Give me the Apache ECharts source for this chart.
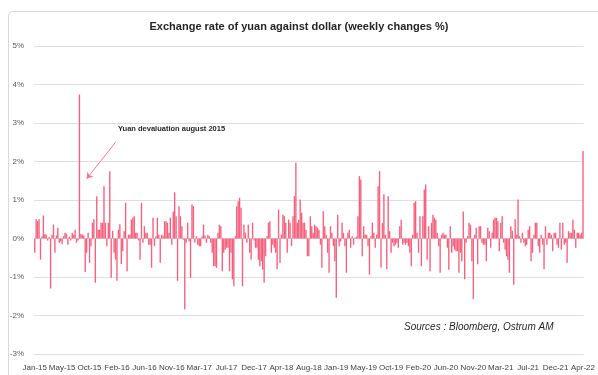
<!DOCTYPE html>
<html>
<head>
<meta charset="utf-8">
<script src="https://cdn.jsdelivr.net/npm/echarts@6/dist/echarts.min.js"></script>
<style>
  html, body { margin: 0; padding: 0; background: #fff; }
  #chart { width: 598px; height: 375px; }
</style>
</head>
<body>
<div id="chart"></div>
<script>
// weekly changes of CNY vs USD, in %, Jan-15 .. Apr-22
var weeklyChange = [
  -0.37, 0.50, 0.45, 0.50, -0.55, 0.05, 0.60, 0.12, 0.10, -0.05,
  0.04, -1.30, 0.10, 0.36, -0.37, 0.08, 0.28, -0.12, -0.08, -0.15,
  0.06, 0.15, 0.12, -0.16, 0.05, -0.05, 0.15, 0.10, 0.23, -0.11,
  -0.05, 3.74, 0.12, 0.10, 0.08, -0.87, -0.37, 0.15, -0.63, -0.20,
  0.41, 0.50, -1.15, 1.10, 0.23, 0.23, 0.41, 0.41, 1.36, 0.41,
  -0.20, 0.41, 1.75, -1.02, 0.20, -0.37, -0.55, -1.10, 0.23, 0.37,
  -0.66, -0.33, 0.19, 0.93, -0.85, 0.10, 0.10, 0.49, 0.54, 0.58,
  0.15, 0.15, -0.05, -0.55, 0.93, -0.11, 0.32, 0.15, 0.15, -0.16,
  -0.16, -0.76, 0.54, -0.20, 0.06, 0.54, 0.10, -0.63, 0.10, 0.06,
  0.45, 0.45, 0.41, 0.15, 0.54, -0.16, 0.70, 1.20, 0.58, -1.10,
  0.84, 0.58, 0.32, -0.03, -1.84, -0.11, 0.41, -0.08, -1.02, 0.88,
  0.84, -0.11, 0.06, -0.16, -0.20, -0.20, 0.06, 0.36, 0.08, -0.11,
  0.10, 0.06, -0.11, -0.37, -0.72, -0.72, -0.76, 0.15, 0.36, 0.32,
  -0.85, -0.37, -0.29, -0.24, -0.24, -0.85, -0.37, -1.06, -1.24, 0.06,
  0.84, 0.97, 1.06, 0.80, -1.24, 0.36, 0.15, -0.11, 0.36, -0.37,
  -0.55, 0.41, -0.05, -0.24, -0.24, -0.55, -0.72, -0.59, -0.81, -1.15,
  -0.46, 0.06, 0.41, 0.45, -0.37, -0.16, -0.24, -0.37, -0.80, 0.75,
  -0.63, 0.10, 0.62, 0.58, 0.41, -0.37, 0.49, 0.41, -0.20, 0.58,
  1.10, 1.97, 0.41, 0.49, 1.01, 0.67, 0.41, 0.41, 0.23, -0.46,
  -0.46, 0.58, 0.32, 0.15, 0.36, 0.32, 0.28, 0.23, -0.16, -0.76,
  0.71, 0.32, 0.10, -0.37, -0.89, 0.32, 0.15, -0.20, -0.59, -1.54,
  0.62, -0.20, -0.08, 0.41, 0.15, -0.20, -0.89, 0.15, 0.23, -0.24,
  0.06, -0.16, 0.02, 0.05, 0.58, 1.62, 1.53, -0.46, 0.32, 0.10,
  0.10, -0.20, -0.94, 0.06, 0.41, 0.15, -0.24, 0.10, 1.36, 1.75,
  -0.76, 0.40, 1.15, 0.10, -0.80, 1.10, 0.19, -0.37, -0.11, -0.20,
  -0.16, -0.11, -0.24, 0.32, 0.49, -0.16, -0.11, -0.16, -0.11, -0.20,
  -0.37, -0.72, 0.10, 0.93, 0.97, 0.15, -0.37, 0.58, -0.72, 0.58,
  1.27, 1.40, -0.55, 0.32, -0.85, 0.41, 0.62, 0.54, 0.49, 0.15,
  -0.20, -0.89, 0.10, 0.15, 0.10, 0.10, -0.24, -0.81, 0.32, -0.37,
  -0.20, -0.29, -0.33, -0.33, -0.89, -0.37, -0.59, 0.70, -1.06, -0.11,
  0.06, 0.41, 0.36, -0.59, -1.58, 0.10, 0.28, -0.67, 0.32, 0.32,
  -0.11, -0.16, -0.16, -0.59, 0.28, 0.19, -0.24, 0.15, 0.49, 0.54,
  0.54, 0.45, -0.33, 0.41, 0.58, -0.11, -0.29, -0.46, -0.55, -0.89,
  0.32, 0.20, -1.20, 0.50, 0.10, 1.01, 0.06, -0.11, 0.15, -0.11,
  -0.20, -0.16, 0.23, 0.32, -0.59, -0.37, 0.10, 0.41, 0.41, -0.20,
  -0.37, 0.10, -0.16, -0.80, 0.32, -0.16, 0.15, 0.15, 0.10, -0.33,
  0.15, 0.15, -0.16, -0.24, 0.41, -0.29, 0.41, -0.16, -0.11, -0.63,
  0.19, 0.15, 0.15, 0.49, 0.23, -0.24, 0.15, 0.15, 0.10, 0.15,
  2.27
];

// x axis tick labels, one every 19 weeks
var tickLabels = ['Jan-15', 'May-15', 'Oct-15', 'Feb-16', 'Jun-16', 'Nov-16', 'Mar-17',
  'Jul-17', 'Dec-17', 'Apr-18', 'Aug-18', 'Jan-19', 'May-19', 'Oct-19', 'Feb-20',
  'Jun-20', 'Nov-20', 'Mar-21', 'Jul-21', 'Dec-21', 'Apr-22'];
var labelStep = 19;

// y axis range (%)
var yMin = -3, yMax = 5, yStep = 1;

var weeks = [];
for (var i = 0; i < weeklyChange.length; i++) weeks.push('w' + i);

var chart = echarts.init(document.getElementById('chart'));

var font = 'Liberation Sans, Arial, sans-serif';

var option = {
  animation: false,
  backgroundColor: '#fff',
  title: {
    text: 'Exchange rate of yuan against dollar (weekly changes %)',
    left: 'center',
    top: 16,
    textStyle: {
      fontFamily: font,
      fontSize: 11,
      fontWeight: 'bold',
      color: '#262626'
    }
  },
  grid: { left: 34, right: 11, top: 46, bottom: 21 },
  xAxis: {
    type: 'category',
    data: weeks,
    axisLine: { show: false },
    axisTick: { show: false },
    axisLabel: {
      interval: labelStep - 1,
      hideOverlap: false,
      showMinLabel: true,
      showMaxLabel: true,
      margin: 10,
      fontFamily: font,
      fontSize: 8,
      color: '#404040',
      formatter: function (v, idx) { return tickLabels[idx / labelStep] || ''; }
    }
  },
  yAxis: {
    type: 'value',
    min: yMin,
    max: yMax,
    interval: yStep,
    axisLine: { show: false },
    axisTick: { show: false },
    splitLine: { lineStyle: { color: '#dedede', width: 1 } },
    axisLabel: {
      margin: 10,
      fontFamily: font,
      fontSize: 8,
      color: '#595959',
      formatter: '{value}%'
    }
  },
  series: [{
    type: 'bar',
    data: weeklyChange,
    barCategoryGap: '5%',
    itemStyle: { color: '#f5607d' },
    markLine: {
      silent: true,
      symbol: ['none', 'arrow'],
      symbolSize: 6,
      label: { show: false },
      lineStyle: { color: '#f27b93', width: 1, type: 'solid' },
      data: [[{ coord: ['w56', 2.5] }, { coord: ['w36', 1.55] }]]
    }
  }],
  graphic: [
    {
      type: 'rect',
      shape: { x: 8.5, y: 11.5, width: 600, height: 380, r: 4 },
      style: { fill: 'none', stroke: '#d9d9d9', lineWidth: 1 },
      silent: true
    },
    {
      type: 'text',
      left: 118,
      top: 125,
      style: {
        text: 'Yuan devaluation august 2015',
        fontFamily: font,
        fontSize: 7.5,
        fontWeight: 'bold',
        fill: '#262626'
      }
    },
    {
      type: 'text',
      left: 404,
      top: 322,
      style: {
        text: 'Sources : Bloomberg, Ostrum AM',
        fontFamily: font,
        fontSize: 10,
        fontStyle: 'italic',
        fill: '#262626'
      }
    }
  ]
};

chart.setOption(option);
window.onresize = function () { chart.resize(); };
</script>
</body>
</html>
